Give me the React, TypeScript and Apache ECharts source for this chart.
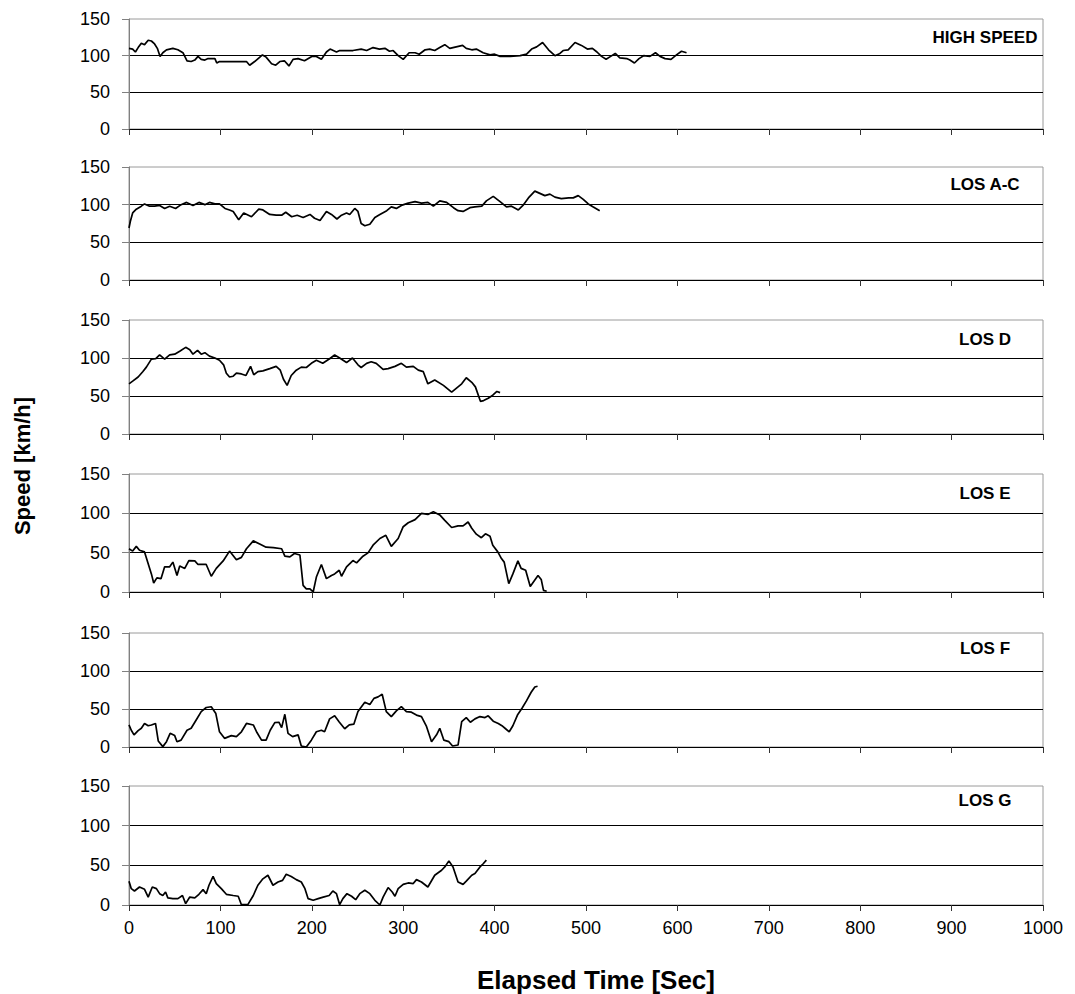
import React, { useEffect, useRef } from "react";
import * as echarts from "echarts";

const PANEL_NAMES = ["HIGH SPEED", "LOS A-C", "LOS D", "LOS E", "LOS F", "LOS G"];
const X_TICKS = [0, 100, 200, 300, 400, 500, 600, 700, 800, 900, 1000];
const Y_TICKS = [0, 50, 100, 150];

const HIGH_SPEED: [number, number][] = [
  [0,110],[4,109],[7,105],[10,111],[13.5,117],[17,115],[21,121],[24.5,120],[28,116],[31,110],[34,99],[37,104],[41,108],[44.5,109],[48,110],[53.5,108],[59,104],[63.5,93],[68,92],[72,94],[75.5,99],[79,95],[83,94],[86.5,96],[90,96],[94,96],[96,90],[99,92],[106.5,92],[114,92],[121,92],[128.5,92],[132,87],[137.5,92],[146,101],[150,98],[156,89],[160.5,87],[165,92],[170,93],[175,86],[179.5,95],[185,96],[192,93],[200,99],[205,99],[210.5,95],[216,105],[220,109],[227,105],[230.5,107],[238,107],[245,107],[254,109],[260,107],[267,111],[274,109],[280,110],[285,106],[289,107],[294.5,100],[300,95],[306.5,104],[313,104],[317.5,102],[324,108],[329,109],[334.5,107],[340,111],[345.5,115],[351,110],[358,112],[365,114],[369,110],[375,108],[380,109],[387.5,104],[395,101],[400,102],[406,99],[417,99],[428,100],[435,102],[440.5,109],[446,112],[452.5,118],[459,108],[466,100],[471.5,103],[475,107],[480.5,108],[488,118],[495,114],[501.5,109],[507,110],[512,105],[517,99],[522,95],[527,99],[532,103],[537,97],[544.5,96],[548,94],[553,90],[558,96],[563,100],[570,99],[576,104],[581,99],[586.5,96],[593,95],[599,101],[604.5,106],[610,104]
];

const LOS_AC: [number, number][] = [
  [0,69],[1.5,78],[4,89],[8,94],[13.5,98],[17,101],[22.5,98],[28,98],[33.5,99],[39,95],[44.5,98],[51,95],[57,100],[63,103],[70,99],[76.5,103],[83,100],[88,103],[94,101],[99,101],[105,95],[110,93],[114,91],[120,80],[125.5,89],[134,84],[142,94],[146.5,93],[154,87],[161,86],[167,86],[171.5,90],[178,84],[184,86],[190.5,83],[198,87],[203,82],[209,79],[216,91],[221.5,87],[227.5,81],[232.5,86],[238,89],[241.5,87],[247,95],[250.5,91],[254,75],[258,72],[263.5,74],[269,83],[274.5,87],[282,92],[287,97],[292.5,95],[298,99],[305.5,102],[313,104],[320,102],[327,103],[333,98],[340,105],[347.5,103],[355,96],[360,92],[365.5,91],[373,96],[378.5,97],[386,98],[391,105],[398.5,111],[406,104],[413,97],[418.5,98],[426,93],[431,99],[437,109],[444,118],[449.5,115],[455,112],[460.5,114],[466,110],[473,108],[481,109],[486,109],[491.5,112],[497,107],[502.5,101],[508,97],[515,92]
];

const LOS_D: [number, number][] = [
  [0,66],[4,69.5],[10,75],[15,82],[19,88],[24.5,98.5],[29,99],[33.5,104],[39,98.5],[44.5,104],[50,105],[55.5,109],[62,114],[66.5,111],[70,105],[75,110],[79,105],[83,107],[88,102.5],[94,100],[99,97],[103.5,91],[106.5,80],[110,75],[114,76],[117.5,80],[123,79],[128,77],[133,89],[136.5,78],[141,82],[146.5,83],[154,86],[161,89],[165.5,84],[169,72],[173,64],[177.5,77],[183,84],[188.5,88],[194,87.5],[199.5,93],[205,97],[212,93],[219.5,99],[225,104],[230.5,100],[238,94],[244.5,100],[250.5,91],[254,87.5],[260,93],[265,95],[270.5,93],[278,85],[283.5,86],[291,89],[298,93],[303.5,88],[311,89],[316.5,84],[322,82],[327,66],[334.5,71],[344,64],[353,55],[360,62],[364,66],[369,74],[375,68],[379,62],[384.5,43],[388,44],[393,47],[398,51],[402.5,56],[406,54.5]
];

const LOS_E: [number, number][] = [
  [0,55],[4,52],[8,58],[11.5,53],[17,51],[21,36],[24.5,23],[27,11.5],[30.5,18],[35,17],[39,32],[44.5,32],[48,38],[52.5,21],[55.5,33],[61,30],[65.5,40],[72,39.5],[75.5,35],[84.5,35],[90,20],[95.5,30],[103,39.5],[110,52],[117.5,41],[123,44],[128.5,55],[136,65],[143,61],[150,57],[158,56.5],[167,55],[170.5,45.5],[176,44.6],[181,49],[187,47],[190.5,8.5],[194,4],[198,4],[201.5,0],[205,19],[210.5,35],[216,17],[221.5,21],[225,23],[230,27.6],[232.5,20],[238,32],[245,40],[249,37],[256,45.5],[261.5,49.7],[267,59.5],[274.5,68],[281,72],[287,58],[294.5,68],[300,83],[305.5,88],[313,92],[320,100],[327,98.6],[333,102],[340,98],[345.5,91],[353,82],[360,84],[365.5,84],[371,89],[375,81],[380,73.5],[385.5,69],[390,74],[395,71],[398,59.5],[403.5,51],[407.5,42.5],[410.5,38],[415.5,10.6],[420,23],[425.5,39.5],[429,30],[434,27.6],[439,7],[447.5,21],[451,16],[453.5,2],[457,1]
];

const LOS_F: [number, number][] = [
  [0,29],[2.5,22],[5.5,16],[10,21.6],[13.5,24.6],[17,31],[21,28],[24.5,29],[29,31],[32,8],[37,0.5],[41,7],[45,18],[50,15],[52.5,7],[57,9],[63.5,22],[68,24.6],[73.5,35.6],[79,46.6],[84.5,52],[90,53],[95,44],[99,20],[104.5,11.4],[112,15],[117.5,13.6],[123,20],[128.5,31],[136,29],[140,19],[145,9],[150,9],[154.5,22],[159.5,32],[164,32.6],[167,25.5],[170.5,43],[174,18],[179,13.6],[185,16],[188.5,1.3],[194,0],[199.5,9],[205,20],[210.5,22],[214,20],[219.5,37],[225,41],[230,33],[236,24],[241,29],[246,30],[250.5,46.6],[258,59],[263.5,56],[268,64],[272.5,66],[277,69.5],[281.5,46.6],[287,40],[292.5,47.5],[298,53],[303.5,46.6],[309,45.8],[314.5,42],[320,40],[325.5,27],[331,7],[336.5,16],[340,24.6],[344.5,9],[350,7],[354,1.3],[360,2.6],[364,33.4],[369,38.7],[373.5,32.6],[378.5,37],[384,40],[389.5,38.7],[393,41],[398.5,34],[404,31],[408,28],[412,24],[416,20],[420,28],[425,42],[430,51],[435,61],[440,72],[444,79],[447,80]
];

const LOS_G: [number, number][] = [
  [0,30],[2.5,20.6],[6,17.7],[11.5,22.7],[17,19.8],[21,10],[25.5,22.7],[30,20.6],[33.5,14.3],[37,12],[40,16.4],[42.5,9],[48,8],[53.5,8],[58.5,12],[62,1.7],[66.5,10],[72,9],[76.5,13.5],[81,19.4],[84.5,14.3],[87.5,24.9],[92,36],[95.5,27],[101,20.6],[106.5,13.5],[114,12],[119.5,11],[123,0.4],[130,0.4],[136,12],[141,24.9],[146.5,33],[152,37.5],[157.5,24.9],[163,29],[168,31],[172,38.8],[177.5,36],[183,32],[188.5,29],[192.5,20.6],[196,8],[201.5,6],[207,8],[212.5,10],[219,12],[223,17.7],[227,14.3],[230.5,0.4],[234,8],[238.5,14.3],[243.5,11],[248,6.7],[252.5,14.3],[258,18.5],[263.5,14.3],[269,5.9],[274.5,0],[278,10],[283.5,22],[288,16.4],[291,11],[294.5,20.6],[300,26],[305.5,27.8],[311,27],[314.5,32],[320,29],[327,22.7],[334.5,37.5],[342,43.8],[345.5,48],[350,55.6],[354.5,48],[360,29],[365.5,26],[369,30],[375,37.5],[378.5,39.6],[384,48],[387.5,52],[391,56.5]
];

const SERIES_DATA = [HIGH_SPEED, LOS_AC, LOS_D, LOS_E, LOS_F, LOS_G];

// layout (pixels)
const PLOT_LEFT = 129;
const PLOT_WIDTH = 914;
const PANEL_TOPS = [19, 167, 320, 474, 633, 786];
const PANEL_BOTTOMS = [129, 280, 434, 592, 747, 905];
const LABEL_Y = [37, 184, 339, 493, 648, 800];
const FONT = 'Arial, "Liberation Sans", Helvetica, sans-serif';

export default function App() {
  const ref = useRef<HTMLDivElement>(null);
  useEffect(() => {
    if (!ref.current) return;
    const chart = echarts.init(ref.current, null, { renderer: "svg" });
    const n = PANEL_NAMES.length;
    const option: any = {
      animation: false,
      backgroundColor: "#ffffff",
      textStyle: { fontFamily: FONT },
      grid: PANEL_NAMES.map((_, i) => ({
        left: PLOT_LEFT,
        top: PANEL_TOPS[i],
        width: PLOT_WIDTH,
        height: PANEL_BOTTOMS[i] - PANEL_TOPS[i],
        show: true,
        borderColor: "#9a9a9a",
        borderWidth: 1,
        backgroundColor: "transparent",
      })),
      xAxis: PANEL_NAMES.map((_, i) => ({
        gridIndex: i,
        type: "value",
        min: X_TICKS[0],
        max: X_TICKS[X_TICKS.length - 1],
        interval: X_TICKS[1] - X_TICKS[0],
        axisLine: { show: true, onZero: false, lineStyle: { color: "#000", width: 1 } },
        axisTick: { show: true, length: 6, lineStyle: { color: "#333" } },
        axisLabel: {
          show: i === n - 1,
          fontSize: 18,
          color: "#000",
          margin: 14,
          fontFamily: FONT,
          formatter: (v: number) => String(v),
        },
        splitLine: { show: false },
      })),
      yAxis: PANEL_NAMES.map((_, i) => ({
        gridIndex: i,
        type: "value",
        min: Y_TICKS[0],
        max: Y_TICKS[Y_TICKS.length - 1],
        interval: Y_TICKS[1] - Y_TICKS[0],
        axisLine: { show: true, lineStyle: { color: "#808080", width: 1 } },
        axisTick: { show: true, length: 7, lineStyle: { color: "#808080" } },
        axisLabel: { fontSize: 18, color: "#000", margin: 19, fontFamily: FONT },
        splitLine: {
          show: true,
          showMinLine: false,
          showMaxLine: false,
          lineStyle: { color: "#000", width: 1 },
        },
      })),
      series: SERIES_DATA.map((d, i) => ({
        type: "line",
        name: PANEL_NAMES[i],
        xAxisIndex: i,
        yAxisIndex: i,
        data: d,
        showSymbol: false,
        symbol: "none",
        lineStyle: { color: "#000", width: 1.7 },
        z: 5,
      })),
      graphic: [
        ...PANEL_NAMES.map((name, i) => ({
          type: "text",
          x: 985,
          y: LABEL_Y[i],
          style: {
            text: name,
            fill: "#000",
            font: `bold 17px ${FONT}`,
            textAlign: "center",
            textVerticalAlign: "middle",
          },
        })),
        {
          type: "text",
          x: 596,
          y: 980,
          style: {
            text: "Elapsed Time [Sec]",
            fill: "#000",
            font: `bold 26px ${FONT}`,
            textAlign: "center",
            textVerticalAlign: "middle",
          },
        },
        {
          type: "text",
          x: 22,
          y: 466,
          rotation: Math.PI / 2,
          style: {
            text: "Speed [km/h]",
            fill: "#000",
            font: `bold 22px ${FONT}`,
            textAlign: "center",
            textVerticalAlign: "middle",
          },
        },
      ],
    };
    chart.setOption(option);
    return () => chart.dispose();
  }, []);
  return (
    <div
      ref={ref}
      style={{ position: "absolute", left: 0, top: 0, width: 1075, height: 994, background: "#fff" }}
    />
  );
}
